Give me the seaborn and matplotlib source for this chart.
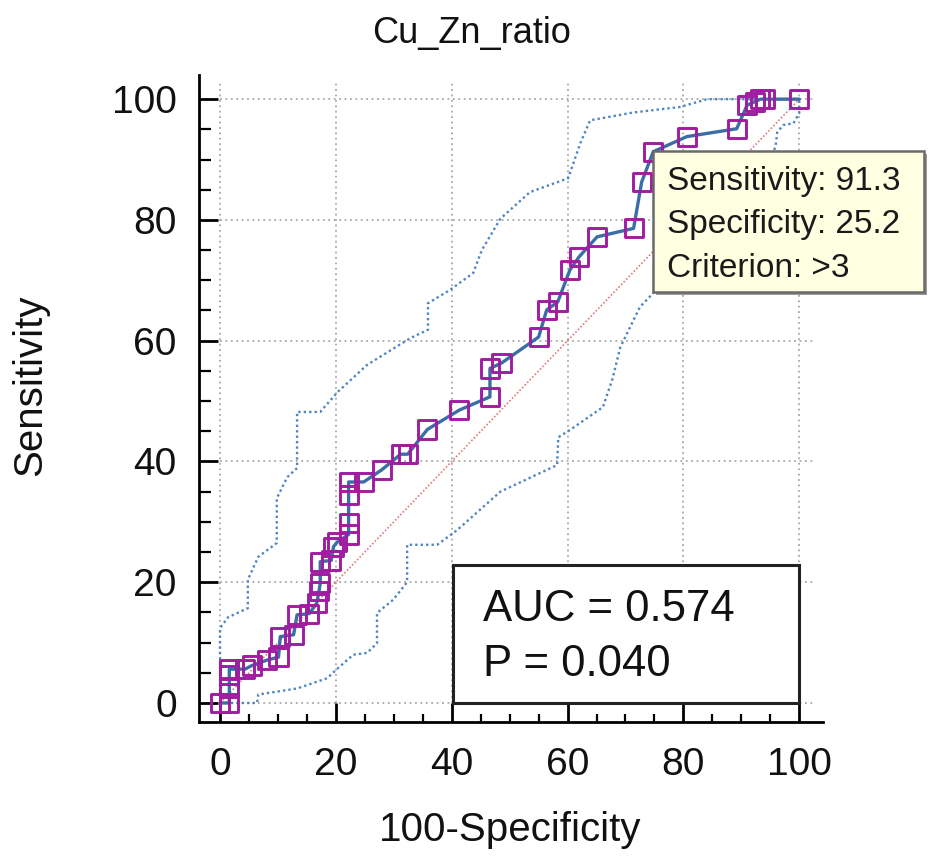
import matplotlib
matplotlib.use("Agg")
import matplotlib.pyplot as plt
from matplotlib.patches import Rectangle
from matplotlib.ticker import MultipleLocator
import numpy as np
import pandas as pd
import seaborn as sns

# ---------------- data ----------------
roc_fpr = [0, 1.6, 1.6, 1.6, 1.6, 4.3, 5.5, 8.1, 10.1, 10.4, 12.7, 13.3, 15.4,
           16.7, 17.1, 17.3, 17.3, 19.2, 19.6, 20.2, 22.2, 22.2, 22.2, 22.2,
           24.8, 27.9, 31.2, 32.4, 35.8, 41.3, 46.6, 46.6, 48.6, 55.0, 56.4,
           58.3, 60.4, 62.0, 65.1, 71.4, 72.8, 74.8, 80.6, 89.2, 91.0, 92.4,
           93.3, 94.1, 100]
roc_tpr = [0, 0, 2.5, 4.6, 5.6, 5.6, 6.2, 7.1, 7.6, 11.0, 11.3, 14.6, 14.8,
           16.5, 18.6, 19.8, 23.4, 23.6, 25.9, 26.6, 27.9, 29.8, 34.4, 36.6,
           36.6, 38.6, 41.2, 41.2, 45.3, 48.5, 50.7, 55.4, 56.3, 60.6, 65.1,
           66.4, 71.7, 73.9, 77.2, 78.6, 86.3, 91.3, 93.8, 95.1, 99.0, 99.6,
           100, 100, 100]

upper_x = [0, 0, 1.4, 4.8, 4.8, 6.6, 9.8, 9.8, 11.6, 13.3, 13.3, 17.3, 20.3,
           25.4, 32.8, 35.9, 35.9, 39.7, 43.7, 45.2, 48.4, 53.5, 60.1, 62.2,
           63.9, 71.4, 79.4, 84.1, 100]
upper_y = [0, 12.4, 14.2, 15.7, 20.4, 24.2, 26.5, 33.9, 37.4, 38.9, 48.2, 48.2,
           51.5, 56.0, 60.4, 61.8, 66.2, 68.4, 71.2, 75.0, 80.2, 84.6, 86.9,
           92.7, 96.5, 97.8, 98.7, 100, 100]

lower_x = [0, 6.4, 6.6, 13.3, 18.5, 20.4, 23.0, 25.4, 27.1, 27.1, 29.9, 32.3,
           32.3, 37.5, 40.9, 48.4, 58.2, 58.4, 60.4, 66.1, 67.7, 69.1, 72.5,
           74.8, 78.2, 82.5, 88.0, 92.5, 95.9, 96.2, 97.2, 99.0, 100, 100]
lower_y = [0, 0, 1.4, 2.4, 4.1, 5.8, 8.0, 8.3, 9.9, 14.9, 17.1, 20.0, 26.2,
           26.2, 28.6, 35.0, 39.4, 44.0, 45.2, 49.0, 53.5, 58.9, 65.6, 67.9,
           68.4, 72.0, 78.0, 85.0, 92.1, 94.5, 95.7, 96.0, 97.7, 100]

diag = [0, 100]
tick_values = [0, 20, 40, 60, 80, 100]

title = "Cu_Zn_ratio"
xlabel = "100-Specificity"
ylabel = "Sensitivity"
tooltip_lines = ["Sensitivity: 91.3", "Specificity: 25.2", "Criterion: >3"]
auc_lines = ["AUC = 0.574", "P = 0.040"]

# ---------------- style ----------------
sns.set_theme(style="white")
plt.rcParams["font.family"] = ["Liberation Sans", "DejaVu Sans"]

W, H = 930, 860
fig = plt.figure(figsize=(W / 100, H / 100), dpi=100)
ax = fig.add_axes([199 / W, 1 - 722 / H, (823 - 199) / W, (722 - 75) / H])
ax.set_xlim(-3.63, 104.1)
ax.set_ylim(-3.15, 104.0)

# dotted grid, spanning the data range only
grid_kw = dict(color="#a8a8a8", linestyle=(0, (1, 2)), linewidth=1.3, zorder=0)
ax.vlines(tick_values, 0, 102.6, **grid_kw)
ax.hlines(tick_values, 0, 102.6, **grid_kw)

# diagonal reference
sns.lineplot(x=diag, y=diag, sort=False, estimator=None, color="#e07a7a",
             linestyle=(0, (1, 1.2)), linewidth=1.2, ax=ax, zorder=1)

# confidence bands
band_col = "#4f86c0"
sns.lineplot(x=upper_x, y=upper_y, sort=False, estimator=None, color=band_col,
             linestyle=(0, (1, 1.3)), linewidth=1.7, ax=ax, zorder=2)
sns.lineplot(x=lower_x, y=lower_y, sort=False, estimator=None, color=band_col,
             linestyle=(0, (1, 1.3)), linewidth=1.7, ax=ax, zorder=2)

# ROC curve
sns.lineplot(x=roc_fpr, y=roc_tpr, sort=False, estimator=None, color="#3a6ea5",
             linewidth=2.4, ax=ax, zorder=3)
sns.scatterplot(x=roc_fpr, y=roc_tpr, marker="s", s=170, color="#a01ca0",
                linewidth=2.1, ax=ax, zorder=4)
coll = ax.collections[-1]
coll.set_facecolor("none")
coll.set_edgecolor("#a01ca0")

# AUC box (data coordinates)
ax.add_patch(Rectangle((40.2, 0), 59.8, 22.8, facecolor="white",
                       edgecolor="#222222", linewidth=2.2, zorder=6))
ax.text(45.4, 13.6, auc_lines[0], fontsize=31.5, va="baseline", ha="left",
        color="#111111", zorder=7)
ax.text(45.4, 4.5, auc_lines[1], fontsize=31.5, va="baseline", ha="left",
        color="#111111", zorder=7)

# axes styling
for s in ["top", "right"]:
    ax.spines[s].set_visible(False)
for s in ["left", "bottom"]:
    ax.spines[s].set_color("black")
    ax.spines[s].set_linewidth(2)
ax.set_xticks(tick_values)
ax.set_yticks(tick_values)
ax.xaxis.set_minor_locator(MultipleLocator(5))
ax.yaxis.set_minor_locator(MultipleLocator(5))
ax.tick_params(which="both", bottom=True, left=True, top=False, right=False)
ax.tick_params(which="major", direction="in", length=13.5, width=2,
               colors="black", labelsize=28, labelcolor="#111111")
ax.tick_params(axis="x", which="major", pad=18)
ax.tick_params(axis="y", which="major", pad=16)
ax.tick_params(axis="x", which="minor", direction="in", length=6, width=1.6,
               colors="black")
ax.tick_params(axis="y", which="minor", direction="in", length=8.5, width=1.6,
               colors="black")

ax.set_xlabel(xlabel, fontsize=29, color="#111111")
ax.set_ylabel(ylabel, fontsize=29, color="#111111")
ax.xaxis.set_label_coords((510 - 199) / 624, (722 - 830) / 647)
ax.yaxis.set_label_coords((30 - 199) / 624, (722 - 385) / 647)
ax.xaxis.label.set_va("center")
ax.yaxis.label.set_va("center")

fig.text(472 / W, 1 - 33 / H, title, fontsize=26, ha="center", va="center",
         color="#111111")

# tooltip box (figure pixel coords)
bx0, by0, bx1, by1 = 653, 151, 924, 292
fig.add_artist(Rectangle((bx0 / W + 3 / W, 1 - (by1 + 3) / H), (bx1 - bx0) / W,
                         (by1 - by0) / H, transform=fig.transFigure,
                         facecolor="#9a9a9a", edgecolor="none", zorder=8))
fig.add_artist(Rectangle((bx0 / W, 1 - by1 / H), (bx1 - bx0) / W,
                         (by1 - by0) / H, transform=fig.transFigure,
                         facecolor="#ffffe1", edgecolor="#6a6a6a",
                         linewidth=1.8, zorder=9))
for i, line in enumerate(tooltip_lines):
    fig.text(667 / W, 1 - (190 + 43.5 * i) / H, line, fontsize=24,
             ha="left", va="baseline", color="#1a1a1a", zorder=10)

fig.savefig("out.png", dpi=100)
